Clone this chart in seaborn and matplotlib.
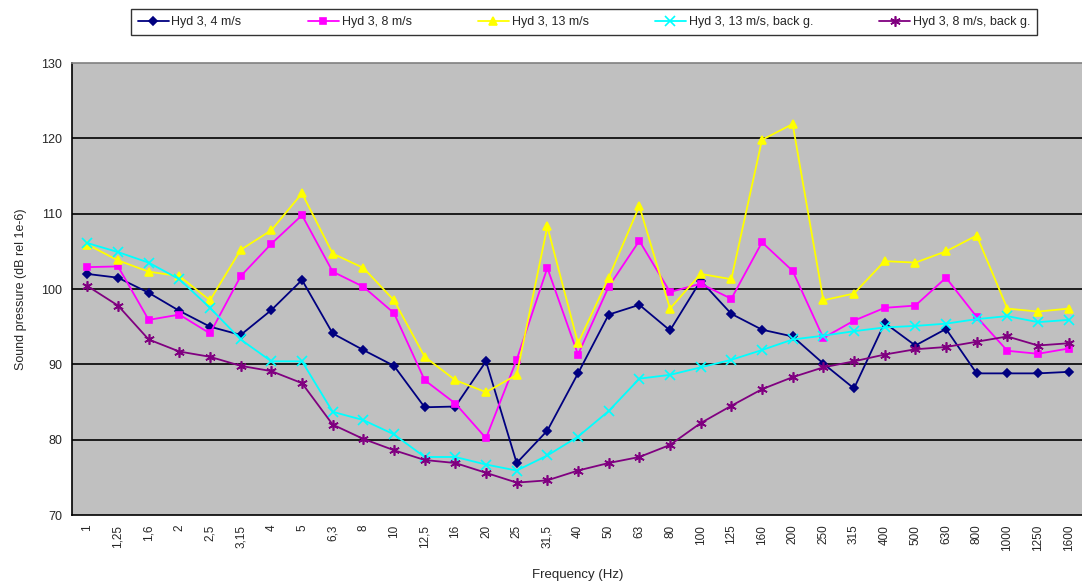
import matplotlib
matplotlib.use("Agg")
import matplotlib.pyplot as plt
import seaborn as sns
import numpy as np
import pandas as pd

freqs = ["1", "1,25", "1,6", "2", "2,5", "3,15", "4", "5", "6,3", "8", "10", "12,5", "16", "20",
         "25", "31,5", "40", "50", "63", "80", "100", "125", "160", "200", "250", "315", "400",
         "500", "630", "800", "1000", "1250", "1600"]

hyd3_4 = [102.0, 101.5, 99.5, 97.1, 95.0, 93.9, 97.2, 101.2, 94.1, 91.9, 89.8, 84.3, 84.4, 90.4,
          76.9, 81.2, 88.8, 96.6, 97.9, 94.5, 101.1, 96.7, 94.6, 93.7, 90.1, 86.8, 95.5,
          92.5, 94.7, 88.8, 88.8, 88.8, 89.0]
hyd3_8 = [102.9, 103.0, 95.9, 96.6, 94.1, 101.7, 106.0, 109.8, 102.3, 100.3, 96.8, 87.9, 84.8, 80.2,
          90.6, 102.8, 91.3, 100.3, 106.4, 99.6, 100.7, 98.7, 106.2, 102.4, 93.5, 95.8, 97.5,
          97.8, 101.5, 96.3, 91.8, 91.4, 92.1]
hyd3_13 = [105.9, 103.8, 102.3, 101.7, 98.5, 105.2, 107.8, 112.7, 104.7, 102.8, 98.5, 91.0, 87.9, 86.3,
           88.6, 108.3, 92.8, 101.5, 111.0, 97.4, 102.0, 101.3, 119.8, 121.9, 98.5, 99.4, 103.7,
           103.5, 105.0, 107.1, 97.4, 97.0, 97.4]
hyd3_13_bg = [106.1, 104.9, 103.5, 101.3, 97.5, 93.3, 90.4, 90.4, 83.7, 82.6, 80.7, 77.7, 77.7, 76.7,
              75.9, 77.9, 80.4, 83.8, 88.1, 88.6, 89.6, 90.6, 91.9, 93.3, 93.8, 94.4, 94.9,
              95.1, 95.4, 96.0, 96.4, 95.6, 95.9]
hyd3_8_bg = [100.4, 97.8, 93.3, 91.7, 91.0, 89.8, 89.1, 87.5, 82.0, 80.1, 78.6, 77.3, 76.9, 75.6,
             74.3, 74.6, 75.9, 76.9, 77.7, 79.3, 82.2, 84.5, 86.7, 88.3, 89.6, 90.4, 91.3,
             92.0, 92.3, 93.0, 93.7, 92.5, 92.8]

series_names = ["Hyd 3, 4 m/s", "Hyd 3, 8 m/s", "Hyd 3, 13 m/s", "Hyd 3, 13 m/s, back g.", "Hyd 3, 8 m/s, back g."]
series_vals = [hyd3_4, hyd3_8, hyd3_13, hyd3_13_bg, hyd3_8_bg]
colors = ["#000080", "#FF00FF", "#FFFF00", "#00FFFF", "#800080"]
markers = ["D", "s", "^", "x", (6, 2, 0)]
msizes = [4.5, 4.5, 5.5, 6.5, 7.5]

sns.set_style("white")
plt.rcParams["font.family"] = ["Liberation Sans", "DejaVu Sans"]

fig = plt.figure(figsize=(10.82, 5.85), dpi=100)
ax = fig.add_axes([72 / 1082, 70 / 585, 1012 / 1082, 452 / 585])
ax.set_facecolor("#C0C0C0")

idx = np.arange(len(freqs))
for name, vals, c, m, ms in zip(series_names, series_vals, colors, markers, msizes):
    df = pd.DataFrame({"x": idx, "y": vals})
    sns.lineplot(data=df, x="x", y="y", ax=ax, color=c, marker=m, markersize=ms,
                 markeredgecolor=c, markeredgewidth=1.2, linewidth=1.3, label=name)

ax.set_xlim(-0.5, len(freqs) - 0.5)
ax.set_ylim(70, 130)
ax.set_yticks(np.arange(70, 131, 10))
ax.set_yticklabels([str(v) for v in range(70, 131, 10)], fontsize=9)
for yv in range(80, 130, 10):
    ax.axhline(yv, color="black", linewidth=1.2, zorder=1)

# category ticks at boundaries, labels at centres
ax.set_xticks(np.arange(-0.5, len(freqs), 1.0))
ax.set_xticklabels([])
ax.set_xticks(idx, minor=True)
ax.set_xticklabels(freqs, minor=True, rotation=90, fontsize=8.5)
ax.tick_params(axis="x", which="minor", length=0, pad=7)
ax.tick_params(axis="x", which="major", length=4, width=1, direction="out", color="black")
ax.tick_params(axis="y", length=4, width=1, direction="out", color="black", pad=3)
ax.grid(False)

ax.spines["left"].set_color("black")
ax.spines["bottom"].set_color("black")
ax.spines["left"].set_linewidth(1.2)
ax.spines["bottom"].set_linewidth(1.2)
ax.spines["top"].set_color("#808080")
ax.spines["top"].set_linewidth(1.2)
ax.spines["right"].set_visible(False)

ax.set_xlabel("Frequency (Hz)", fontsize=9.5, labelpad=13)
ax.set_ylabel("Sound pressure (dB rel 1e-6)", fontsize=9, labelpad=10)

handles, labels = ax.get_legend_handles_labels()
ax.legend_.remove()
leg = fig.legend(handles, labels, loc="center", bbox_to_anchor=(584 / 1082, 1 - 22 / 585),
                 ncol=5, fontsize=9, frameon=True, fancybox=False, edgecolor="black",
                 handlelength=2.5, handletextpad=0.2, columnspacing=5.3, borderpad=0.55)
leg.get_frame().set_linewidth(1.0)

fig.savefig("out.png", dpi=100)
